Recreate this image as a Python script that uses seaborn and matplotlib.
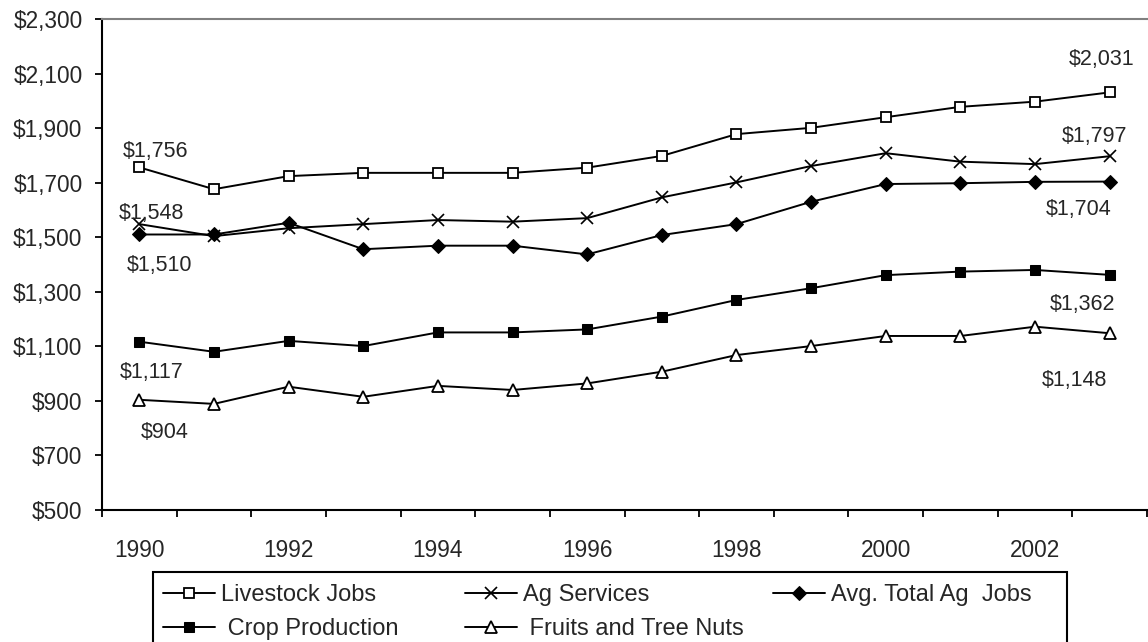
import numpy as np
import pandas as pd
import matplotlib
matplotlib.use("Agg")
import matplotlib.pyplot as plt
from matplotlib.ticker import FixedLocator, FuncFormatter
from matplotlib.patches import Rectangle
import seaborn as sns

years = list(range(1990, 2004))
livestock = [1756, 1676, 1724, 1736, 1736, 1736, 1755, 1798, 1878, 1901, 1940, 1978, 1997, 2031]
ag_services = [1548, 1504, 1533, 1548, 1563, 1557, 1570, 1646, 1701, 1761, 1808, 1777, 1768, 1797]
avg_total = [1510, 1510, 1553, 1456, 1469, 1469, 1437, 1508, 1548, 1630, 1695, 1698, 1703, 1704]
crop = [1117, 1080, 1120, 1101, 1151, 1151, 1162, 1209, 1270, 1313, 1361, 1374, 1380, 1362]
fruits = [904, 889, 952, 915, 955, 940, 964, 1007, 1068, 1101, 1138, 1138, 1172, 1148]
series_names = ["Livestock Jobs", "Ag Services", "Avg. Total Ag  Jobs", " Crop Production", " Fruits and Tree Nuts"]
yticks = list(range(500, 2301, 200))

sns.set_style("white")
plt.rcParams["font.family"] = ["Liberation Sans", "DejaVu Sans"]

W, H = 1148, 642
FS_TICK = 16.3
FS_ANN = 15.5
FS_LEG = 17
fig = plt.figure(figsize=(W/100, H/100), dpi=100)
ax = fig.add_axes([102/W, 1-510/H, 1045/W, (510-19)/H])

xs = np.arange(len(years))
styles = [
    dict(marker="s", markersize=7, markerfacecolor="white", markeredgecolor="black", markeredgewidth=1.3),
    dict(marker="x", markersize=9, markeredgecolor="black", markeredgewidth=1.2),
    dict(marker="D", markersize=7, markerfacecolor="black", markeredgecolor="black"),
    dict(marker="s", markersize=7, markerfacecolor="black", markeredgecolor="black"),
    dict(marker="^", markersize=9, markerfacecolor="white", markeredgecolor="black", markeredgewidth=1.3),
]
data = [livestock, ag_services, avg_total, crop, fruits]
for name, vals, st in zip(series_names, data, styles):
    df = pd.DataFrame({"x": xs, "y": vals})
    sns.lineplot(data=df, x="x", y="y", ax=ax, color="black", linewidth=1.4,
                 label=name, legend=False, **st)

ax.set_xlim(-0.5, len(years) - 0.5)
ax.set_ylim(500, 2300)
ax.set_xlabel("")
ax.set_ylabel("")

ax.xaxis.set_major_locator(FixedLocator(np.arange(-0.5, len(years), 1.0)))
ax.xaxis.set_major_formatter(FuncFormatter(lambda v, p: ""))
ax.xaxis.set_minor_locator(FixedLocator(xs[::2]))
ax.set_xticklabels([str(y) for y in years[::2]], minor=True)
ax.tick_params(axis="x", which="major", direction="out", length=5, width=1.3, color="black", bottom=True)
ax.tick_params(axis="x", which="minor", length=0, pad=21, labelsize=FS_TICK)
ax.set_yticks(yticks)
ax.yaxis.set_major_formatter(FuncFormatter(lambda v, p: "${:,.0f}".format(v)))
ax.tick_params(axis="y", direction="out", length=5, width=1.3, color="black", left=True, labelsize=FS_TICK, pad=9)

for s in ["left", "bottom"]:
    ax.spines[s].set_color("black")
    ax.spines[s].set_linewidth(1.5)
ax.spines["top"].set_color("#808080")
ax.spines["top"].set_linewidth(1.5)
ax.spines["right"].set_visible(False)

def lab(i, vals, dx, dy):
    ax.annotate("${:,.0f}".format(vals[i]), (xs[i], vals[i]), xytext=(dx, dy),
                textcoords="offset points", ha="center", va="center", fontsize=FS_ANN)

lab(0, livestock, 11.5, 11.5)
lab(0, ag_services, 8.6, 8)
lab(0, avg_total, 14.4, -22.3)
lab(0, crop, 8.6, -22.3)
lab(0, fruits, 18, -23.8)
lab(-1, livestock, -5.8, 23.8)
lab(-1, ag_services, -10.8, 14.4)
lab(-1, avg_total, -22.3, -20)
lab(-1, crop, -19.4, -21.6)
lab(-1, fruits, -25, -34)

# Legend: frame box plus three frameless columns at fixed positions
box = Rectangle((153/W, -20/H), (1067-153)/W, (20 + H - 572)/H, transform=fig.transFigure,
                facecolor="white", edgecolor="black", linewidth=1.5, clip_on=False, zorder=1)
fig.patches.append(box)

handles, labels = ax.get_legend_handles_labels()
columns = [[0, 3], [1, 4], [2]]
col_x = [163, 465, 773]
legend_top = 584
for idxs, cx in zip(columns, col_x):
    leg = fig.legend([handles[i] for i in idxs], [labels[i] for i in idxs],
                     loc="upper left", bbox_to_anchor=(cx/W, 1 - legend_top/H),
                     ncol=1, frameon=False, fontsize=FS_LEG,
                     handlelength=2.2, handletextpad=0.25, borderpad=0.0, labelspacing=0.5,
                     borderaxespad=0)
    leg.set_zorder(2)

fig.savefig("out.png", dpi=100)
